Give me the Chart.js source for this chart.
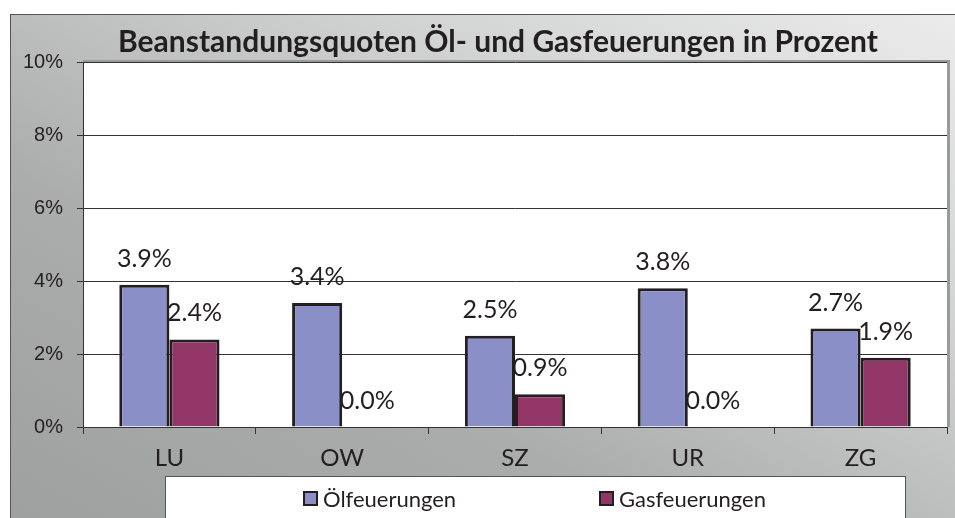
<!DOCTYPE html>
<html>
<head>
<meta charset="utf-8">
<script src="https://cdn.jsdelivr.net/npm/chart.js@4"></script>
<style>
    html, body { margin: 0; padding: 0; background: #fff; overflow: hidden; }
    #panel {
        position: absolute; left: 10px; top: 14px; width: 960px; height: 520px;
        border-left: 1px solid #555; border-top: 1px solid #555;
        background: linear-gradient(to bottom left, #ececec 0%, #d2d3d3 30%, #abacac 65%, #9e9f9f 100%);
    }
    #wrap { position: absolute; left: 0; top: 0; width: 955px; height: 518px; }
</style>
</head>
<body>
<div id="panel"></div>
<div id="wrap"><canvas id="barchart-quote"></canvas></div>
<script>
const titleText = 'Beanstandungsquoten Öl- und Gasfeuerungen in Prozent';
const kantone = ['LU', 'OW', 'SZ', 'UR', 'ZG'];
const oelWerte = [3.9, 3.4, 2.5, 3.8, 2.7];
const gasWerte = [2.4, 0.0, 0.9, 0.0, 1.9];
const serienNamen = ['Ölfeuerungen', 'Gasfeuerungen'];
const yTicks = [0, 2, 4, 6, 8, 10];

const farben = ['#8b8fc7', '#923668'];

// white plot area, title, data labels and legend box
const deko = {
    id: 'deko',
    beforeDraw(chart) {
        const ctx = chart.ctx;
        const a = chart.chartArea;
        ctx.save();
        ctx.fillStyle = '#ffffff';
        ctx.fillRect(a.left, a.top, a.right - a.left, a.bottom - a.top);
        ctx.fillStyle = '#9a9a9a';
        ctx.fillRect(a.left, a.top - 2, a.right - a.left + 3, 2);
        ctx.fillRect(a.right, a.top, 3, a.bottom - a.top);
        ctx.restore();
    },
    afterDatasetsDraw(chart) {
        const ctx = chart.ctx;
        ctx.save();
        ctx.font = '25px Lato';
        ctx.fillStyle = '#231f20';
        ctx.textAlign = 'center';
        ctx.textBaseline = 'middle';
        chart.data.datasets.forEach((ds, i) => {
            chart.getDatasetMeta(i).data.forEach((bar, j) => {
                ctx.fillText(ds.data[j].toFixed(1) + '%', bar.x, bar.y - 26);
            });
        });
        ctx.restore();
    },
    afterDraw(chart) {
        const ctx = chart.ctx;
        ctx.save();
        // title
        ctx.font = 'bold 30px Lato';
        ctx.fillStyle = '#231f20';
        ctx.textAlign = 'center';
        ctx.textBaseline = 'middle';
        ctx.fillText(titleText, 498, 42);
        // legend box
        ctx.fillStyle = '#ffffff';
        ctx.fillRect(165, 476, 740, 60);
        ctx.strokeStyle = '#555';
        ctx.lineWidth = 1;
        ctx.strokeRect(165.5, 476.5, 740, 60);
        const posX = [304, 600];
        ctx.font = '22px Lato';
        ctx.textAlign = 'left';
        serienNamen.forEach((name, i) => {
            ctx.fillStyle = farben[i];
            ctx.fillRect(posX[i], 492, 13, 13);
            ctx.strokeStyle = '#231f20';
            ctx.lineWidth = 2;
            ctx.strokeRect(posX[i], 492, 13, 13);
            ctx.fillStyle = '#231f20';
            ctx.fillText(name, posX[i] + 19, 500);
        });
        ctx.restore();
    }
};

function createBarChart() {
    const ctx = document.getElementById('barchart-quote').getContext('2d');
    new Chart(ctx, {
        type: 'bar',
        data: {
            labels: kantone,
            datasets: [{
                label: serienNamen[0],
                data: oelWerte,
                backgroundColor: farben[0],
                borderColor: '#231f20',
                borderWidth: 3
            }, {
                label: serienNamen[1],
                data: gasWerte,
                backgroundColor: farben[1],
                borderColor: '#231f20',
                borderWidth: 3
            }]
        },
        options: {
            responsive: true,
            maintainAspectRatio: false,
            animation: false,
            layout: { padding: { left: 0, right: 8, top: 62, bottom: 0 } },
            datasets: { bar: { categoryPercentage: 0.58, barPercentage: 1.0 } },
            scales: {
                x: {
                    afterFit(scale) { scale.height = 91; },
                    grid: { offset: true, drawOnChartArea: false, color: '#333', tickLength: 7 },
                    border: { color: '#333', width: 1 },
                    ticks: { color: '#231f20', font: { family: 'Lato', size: 24 }, padding: 10 }
                },
                y: {
                    min: 0,
                    max: 10,
                    afterFit(scale) { scale.width = 83; },
                    afterBuildTicks(scale) { scale.ticks = yTicks.map(v => ({ value: v })); },
                    grid: { color: '#333', tickLength: 6 },
                    border: { color: '#333', width: 1 },
                    ticks: {
                        color: '#231f20',
                        font: { family: 'Liberation Sans', size: 20 },
                        padding: 14,
                        callback: v => v + '%'
                    }
                }
            },
            plugins: {
                legend: { display: false },
                tooltip: { enabled: false }
            }
        },
        plugins: [deko]
    });
}

createBarChart();
</script>
</body>
</html>
